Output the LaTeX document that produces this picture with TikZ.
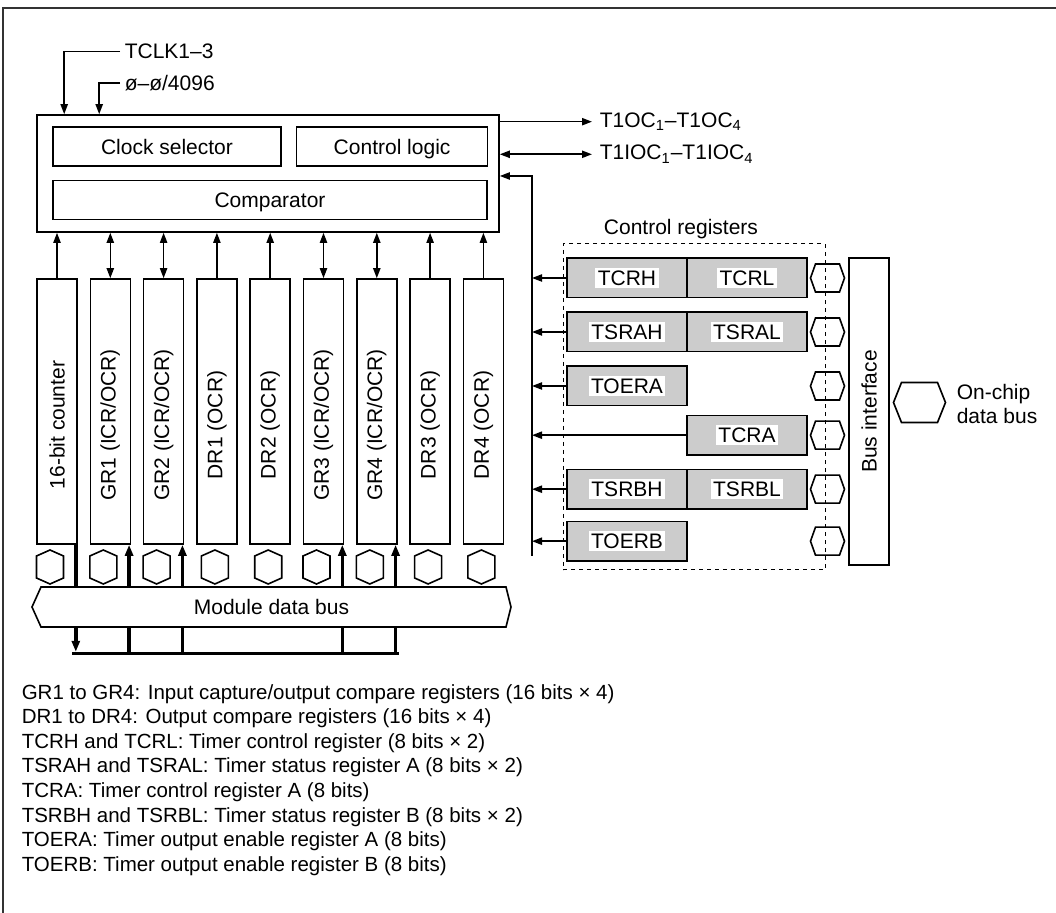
\documentclass[tikz,border=0pt]{standalone}
\usepackage{fontspec}
\setmainfont{Liberation Sans}
\usetikzlibrary{positioning,arrows.meta}
\newcommand{\regtag}[1]{{\setlength{\fboxsep}{1.2pt}\colorbox{white}{#1}}}

\begin{document}
\begin{tikzpicture}[x=0.5pt, y=-0.5pt, line width=0.8pt,
  font=\fontsize{10.5}{12.5}\selectfont,
  blk/.style={draw, inner sep=0pt, minimum height=19.5pt, text height=7.6pt, text depth=0pt},
  col/.style={draw, inner sep=0pt, minimum width=20pt, minimum height=132.5pt},
  vlbl/.style={rotate=90},
  reg/.style={draw, fill=gray!40, inner sep=0pt, outer sep=0pt, minimum width=60pt, minimum height=19.7pt},
  lbl/.style={inner sep=2pt, anchor=west},
  olbl/.style={inner sep=3.5pt, anchor=west},
  bus/.style={line width=1.7pt, >={Triangle[length=5.5pt,width=4pt]}},
  vhex/.pic={\draw (0,8.5pt) -- (6.75pt,5.5pt) -- (6.75pt,-5.5pt) -- (0,-8.5pt) -- (-6.75pt,-5.5pt) -- (-6.75pt,5.5pt) -- cycle;},
  hhex/.pic={\draw (-8.5pt,0) -- (-6pt,7pt) -- (6pt,7pt) -- (8.5pt,0) -- (6pt,-7pt) -- (-6pt,-7pt) -- cycle;},
  chex/.pic={\draw (-13pt,0) -- (-9pt,10pt) -- (9pt,10pt) -- (13pt,0) -- (9pt,-10pt) -- (-9pt,-10pt) -- cycle;},
  >={Triangle[length=5pt,width=3.6pt]}]
  \useasboundingbox (0,0) rectangle (1056,913);
  \draw[line width=1pt, black!80] (3,913) |- (1056,8);

  \node[blk, minimum width=231pt, minimum height=58.5pt] (tmr) at (268,173.5) {};
  \node[blk, minimum width=114pt, below right=6pt and 8pt of tmr.north west] (clk) {Clock selector};
  \node[blk, minimum width=95.5pt, right=7pt of clk] (ctl) {Control logic};
  \node[blk, minimum width=217pt, below=6.5pt of clk.south west, anchor=north west] (cmp) {Comparator};

  \node[lbl] (tclk) at (120,51.7) {TCLK1--3};
  \node[lbl] (phi) at (120,83.3) {ø--ø/4096};
  \draw[->] (tclk.west) -| ([xshift=14pt]tmr.north west);
  \draw[->] (phi.west) -| ([xshift=31.5pt]tmr.north west);

  \node[olbl] (oc) at (592,121.7) {T1OC\textsubscript{1}--T1OC\textsubscript{4}};
  \node[olbl] (ioc) at (592,154.3) {T1IOC\textsubscript{1}--T1IOC\textsubscript{4}};
  \draw[->] (tmr.east |- oc.west) -- (oc.west);
  \draw[<->] (tmr.east |- ioc.west) -- (ioc.west);

  \node[col] (cnt) at (57,411.5) {};
  \node[col, right=5.85pt of cnt] (gr1) {};
  \node[col, right=5.85pt of gr1] (gr2) {};
  \node[col, right=5.85pt of gr2] (dr1) {};
  \node[col, right=5.85pt of dr1] (dr2) {};
  \node[col, right=5.85pt of dr2] (gr3) {};
  \node[col, right=5.85pt of gr3] (gr4) {};
  \node[col, right=5.85pt of gr4] (dr3) {};
  \node[col, right=5.85pt of dr3] (dr4) {};
  \foreach \c/\txt in {cnt/16-bit counter, gr1/{GR1 (ICR/OCR)}, gr2/{GR2 (ICR/OCR)}, dr1/DR1 (OCR), dr2/DR2 (OCR), gr3/{GR3 (ICR/OCR)}, gr4/{GR4 (ICR/OCR)}, dr3/DR3 (OCR), dr4/DR4 (OCR)}
    \node[vlbl] (\c-t) at ([yshift=-6.75pt]\c.center) {\txt};
  \foreach \c in {cnt,dr1,dr2,dr3,dr4}
    \draw[->] (\c.north) -- (\c.north |- tmr.south);
  \foreach \c in {gr1,gr2,gr3,gr4}
    \draw[<->] (\c.north) -- (\c.north |- tmr.south);

  \coordinate (hexrow) at (0,567);
  \foreach \c/\s in {cnt/-3.5,gr1/-3.5,gr2/-3.5,dr1/-1,dr2/-1,gr3/-3.5,gr4/-3.5,dr3/-1,dr4/-1}
    \pic at ([xshift=\s pt]\c.south |- hexrow) {vhex};

  \coordinate (bl) at (72,653.5);
  \coordinate (br) at (398.5,653.5);
  \draw[bus,->,shorten >=0.85pt] ([xshift=-1pt]cnt.south east) -- ([xshift=-1pt]cnt.south east |- bl);
  \foreach \c in {gr1,gr2,gr3,gr4}
    \draw[bus,->] ([xshift=-1pt]\c.south east |- bl) -- ([xshift=-1pt]\c.south east);
  \draw[bus] (bl) -- (br);
  \draw[fill=white] (32,607) -- (41,587) -- (506,587) -- (511,607) -- (506,627) -- (41,627) -- cycle;
  \node (mdb) at (271.5,607) {Module data bus};

  \node[draw, dashed, line width=0.5pt, dash pattern=on 2pt off 2pt, minimum width=131pt, minimum height=163pt] (ctrl) at (694,407) {};
  \node (ctrlt) at (681,229) {Control registers};
  \node[reg] (tcrh) at (627,278) {\regtag{TCRH}};
  \node[reg, right=0pt of tcrh] (tcrl) {\regtag{TCRL}};
  \node[reg, below=7.3pt of tcrh] (tsrah) {\regtag{TSRAH}};
  \node[reg, right=0pt of tsrah] (tsral) {\regtag{TSRAL}};
  \node[reg, below=7.3pt of tsrah] (toera) {\regtag{TOERA}};
  \node[reg, below right=4.9pt and 0pt of toera] (tcra) {\regtag{TCRA}};
  \node[reg, below left=7.3pt and 0pt of tcra] (tsrbh) {\regtag{TSRBH}};
  \node[reg, right=0pt of tsrbh] (tsrbl) {\regtag{TSRBL}};
  \node[reg, below=6.3pt of tsrbh] (toerb) {\regtag{TOERB}};

  \coordinate (vb) at (532,556);
  \draw[->] (vb) |- ([yshift=-1.25pt]tmr.east);
  \foreach \rg in {tcrh,tsrah,toera,tcra,tsrbh,toerb}
    \draw[->] (\rg.west) -- (\rg.west -| vb);
  \foreach \rg in {tcrl,tsral,toera,tcra,tsrbl,toerb}
    \pic at ([xshift=1pt]ctrl.east |- \rg) {hhex};

  \node[blk, rotate=90, minimum width=153.5pt, minimum height=20pt] (bif) at (869,411.5) {Bus interface};
  \pic at (919.5,402.5) {chex};
  \node[align=left, anchor=west, inner sep=0pt] (ocdb) at (956,404) {On-chip\\data bus};

  \node[anchor=west, align=left, inner sep=0pt, font=\fontsize{10.25}{12.3}\selectfont] (notes) at (21,780) {GR1 to GR4: Input capture/output compare registers (16 bits × 4)\\
    DR1 to DR4: Output compare registers (16 bits × 4)\\
    TCRH and TCRL: Timer control register (8 bits × 2)\\
    TSRAH and TSRAL: Timer status register A (8 bits × 2)\\
    TCRA: Timer control register A (8 bits)\\
    TSRBH and TSRBL: Timer status register B (8 bits × 2)\\
    TOERA: Timer output enable register A (8 bits)\\
    TOERB: Timer output enable register B (8 bits)};
\end{tikzpicture}
\end{document}
